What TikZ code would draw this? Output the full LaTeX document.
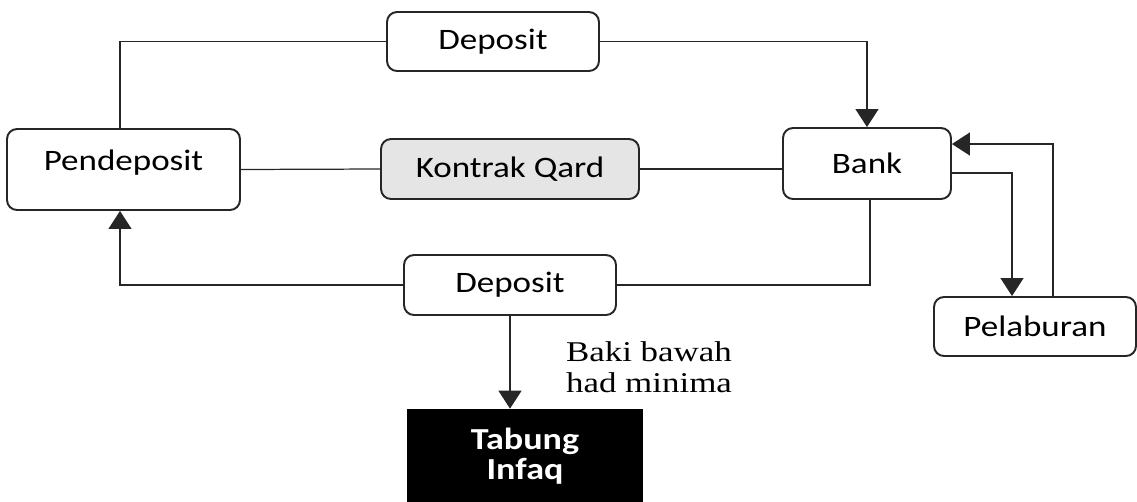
\documentclass[tikz,border=0pt]{standalone}
\usepackage{fontspec}
\usetikzlibrary{arrows.meta}
\newfontfamily\boxfont{Carlito}[FakeStretch=1.18]
\newfontfamily\notefont{Liberation Serif}[FakeStretch=1.22]

\begin{document}
\begin{tikzpicture}[x=0.02cm, y=-0.02cm,
    box/.style={rectangle, rounded corners=0.2cm, draw=black!85, line width=1.1pt, fill=white, inner sep=0pt, font=\boxfont\fontsize{16.9}{20}\selectfont},
    link/.style={draw=black!85, line width=0.7pt},
    >={Triangle[width=0.46cm, length=0.36cm]}]
    \useasboundingbox (0,0) rectangle (1137,501);

    \node[box, minimum width=4.24cm, minimum height=1.18cm] (deptop) at (493,41.5) {Deposit};
    \node[box, minimum width=4.66cm, minimum height=1.62cm, text height=0.4cm, text depth=0.36cm] (pend) at (123.5,169.5) {Pendeposit};
    \node[box, fill=black!10, minimum width=5.16cm, minimum height=1.2cm] (kontrak) at (510,169) {Kontrak Qard};
    \node[box, minimum width=3.36cm, minimum height=1.42cm] (bank) at (867,163.5) {Bank};
    \node[box, minimum width=4.24cm, minimum height=1.2cm] (depbot) at (510,285) {Deposit};
    \node[box, minimum width=4.04cm, minimum height=1.18cm] (pel) at (1035,326.5) {Pelaburan};
    \node[rectangle, fill=black, text=white, align=center, minimum width=4.72cm, minimum height=1.88cm, inner sep=0pt, font=\boxfont\bfseries\fontsize{17.4}{16.8}\selectfont] (tabung) at (525,456) {Tabung\\Infaq};
    \node[align=left, inner sep=0pt, font=\notefont\fontsize{16.3}{17.6}\selectfont] (baki) at (649,367.5) {Baki bawah\\had minima};

    % deposit flows
    \draw[link] ([xshift=-0.07cm]pend.north) |- (deptop.west);
    \draw[link, ->] (deptop.east) -| (bank.north);
    \draw[link] (pend.east) -- (kontrak.west);
    \draw[link] (kontrak.east) -- (kontrak.east -| bank.west);
    \draw[link] ([xshift=0.06cm]bank.south) |- (depbot.east);
    \draw[link, ->] (depbot.west) -| ([xshift=-0.07cm]pend.south);
    \draw[link, ->] (depbot.south) -- (depbot.south |- tabung.north);

    % investment loop
    \draw[link, ->] ([yshift=-0.19cm]bank.east) -| ([xshift=-0.46cm]pel.north);
    \draw[link, ->] ([xshift=0.36cm]pel.north) |- ([yshift=0.39cm]bank.east);
\end{tikzpicture}
\end{document}
